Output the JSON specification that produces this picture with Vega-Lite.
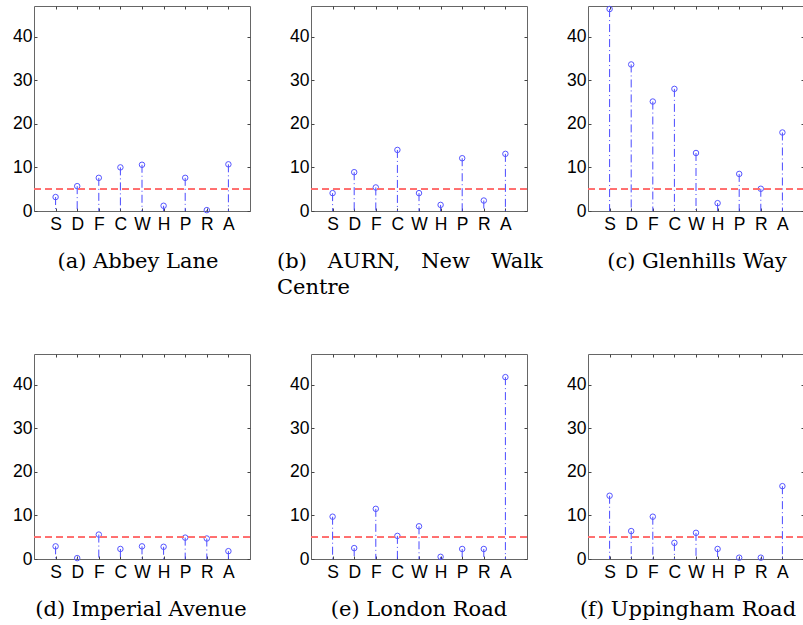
{
  "$schema": "https://vega.github.io/schema/vega-lite/v6.json",
  "padding": {"left": 12, "top": 3, "right": 5, "bottom": 5},
  "background": "white",
  "data": {"values": [
    {"s":"a","p":"S","v":3.2},{"s":"a","p":"D","v":5.7},{"s":"a","p":"F","v":7.6},{"s":"a","p":"C","v":10.0},{"s":"a","p":"W","v":10.6},{"s":"a","p":"H","v":1.2},{"s":"a","p":"P","v":7.6},{"s":"a","p":"R","v":0.2},{"s":"a","p":"A","v":10.7},
    {"s":"b","p":"S","v":4.1},{"s":"b","p":"D","v":8.9},{"s":"b","p":"F","v":5.4},{"s":"b","p":"C","v":14.0},{"s":"b","p":"W","v":4.1},{"s":"b","p":"H","v":1.4},{"s":"b","p":"P","v":12.1},{"s":"b","p":"R","v":2.4},{"s":"b","p":"A","v":13.1},
    {"s":"c","p":"S","v":46.3},{"s":"c","p":"D","v":33.6},{"s":"c","p":"F","v":25.1},{"s":"c","p":"C","v":28.0},{"s":"c","p":"W","v":13.3},{"s":"c","p":"H","v":1.8},{"s":"c","p":"P","v":8.5},{"s":"c","p":"R","v":5.1},{"s":"c","p":"A","v":18.0},
    {"s":"d","p":"S","v":2.9},{"s":"d","p":"D","v":0.2},{"s":"d","p":"F","v":5.6},{"s":"d","p":"C","v":2.3},{"s":"d","p":"W","v":2.9},{"s":"d","p":"H","v":2.8},{"s":"d","p":"P","v":4.9},{"s":"d","p":"R","v":4.7},{"s":"d","p":"A","v":1.8},
    {"s":"e","p":"S","v":9.7},{"s":"e","p":"D","v":2.5},{"s":"e","p":"F","v":11.5},{"s":"e","p":"C","v":5.3},{"s":"e","p":"W","v":7.5},{"s":"e","p":"H","v":0.5},{"s":"e","p":"P","v":2.3},{"s":"e","p":"R","v":2.3},{"s":"e","p":"A","v":41.7},
    {"s":"f","p":"S","v":14.5},{"s":"f","p":"D","v":6.4},{"s":"f","p":"F","v":9.7},{"s":"f","p":"C","v":3.7},{"s":"f","p":"W","v":6.0},{"s":"f","p":"H","v":2.3},{"s":"f","p":"P","v":0.3},{"s":"f","p":"R","v":0.3},{"s":"f","p":"A","v":16.7}
  ]},
  "columns": 3,
  "bounds": "flush",
  "spacing": {"row": 143, "column": 61},
  "concat": [
    {
      "width": 216, "height": 205,
      "title": {"text": "(a) Abbey Lane", "dx": -4},
      "transform": [{"filter": "datum.s === 'a'"}],
      "layer": [
        {"mark": {"type": "rule", "color": "#4a4aff", "strokeDash": [8, 3, 1, 3], "strokeWidth": 1},
         "encoding": {
           "x": {"field": "p", "type": "ordinal", "sort": ["S","D","F","C","W","H","P","R","A"], "scale": {"type": "point", "padding": 1}, "axis": {"orient": "bottom", "title": null, "labelAngle": 0, "labelPadding": 7}},
           "y": {"field": "v", "type": "quantitative", "scale": {"domain": [0, 47], "nice": false}, "axis": {"orient": "left", "title": null, "values": [0,10,20,30,40], "labelPadding": 5}},
           "y2": {"datum": 0}}},
        {"mark": {"type": "point", "shape": "circle", "filled": false, "size": 30, "color": "#5555ff", "strokeWidth": 1, "opacity": 1},
         "encoding": {
           "x": {"field": "p", "type": "ordinal", "sort": ["S","D","F","C","W","H","P","R","A"], "axis": {"orient": "top", "title": null, "labels": false}},
           "y": {"field": "v", "type": "quantitative", "axis": {"orient": "right", "title": null, "labels": false, "values": [0,10,20,30,40]}}}},
        {"mark": {"type": "rule", "color": "#ff6e6e", "strokeDash": [7, 4], "strokeWidth": 1},
         "encoding": {"y": {"datum": 5, "type": "quantitative", "axis": null}}}
      ],
      "resolve": {"axis": {"x": "independent", "y": "independent"}}
    },
    {
      "width": 216, "height": 205,
      "title": {"text": ["(b)\u2003AURN,\u2003New\u2003Walk", "Centre"], "anchor": "start", "align": "left", "dx": -34},
      "transform": [{"filter": "datum.s === 'b'"}],
      "layer": [
        {"mark": {"type": "rule", "color": "#4a4aff", "strokeDash": [8, 3, 1, 3], "strokeWidth": 1},
         "encoding": {
           "x": {"field": "p", "type": "ordinal", "sort": ["S","D","F","C","W","H","P","R","A"], "scale": {"type": "point", "padding": 1}, "axis": {"orient": "bottom", "title": null, "labelAngle": 0, "labelPadding": 7}},
           "y": {"field": "v", "type": "quantitative", "scale": {"domain": [0, 47], "nice": false}, "axis": {"orient": "left", "title": null, "values": [0,10,20,30,40], "labelPadding": 5}},
           "y2": {"datum": 0}}},
        {"mark": {"type": "point", "shape": "circle", "filled": false, "size": 30, "color": "#5555ff", "strokeWidth": 1, "opacity": 1},
         "encoding": {
           "x": {"field": "p", "type": "ordinal", "sort": ["S","D","F","C","W","H","P","R","A"], "axis": {"orient": "top", "title": null, "labels": false}},
           "y": {"field": "v", "type": "quantitative", "axis": {"orient": "right", "title": null, "labels": false, "values": [0,10,20,30,40]}}}},
        {"mark": {"type": "rule", "color": "#ff6e6e", "strokeDash": [7, 4], "strokeWidth": 1},
         "encoding": {"y": {"datum": 5, "type": "quantitative", "axis": null}}}
      ],
      "resolve": {"axis": {"x": "independent", "y": "independent"}}
    },
    {
      "width": 216, "height": 205,
      "title": {"text": "(c) Glenhills Way", "dx": 1},
      "transform": [{"filter": "datum.s === 'c'"}],
      "layer": [
        {"mark": {"type": "rule", "color": "#4a4aff", "strokeDash": [8, 3, 1, 3], "strokeWidth": 1},
         "encoding": {
           "x": {"field": "p", "type": "ordinal", "sort": ["S","D","F","C","W","H","P","R","A"], "scale": {"type": "point", "padding": 1}, "axis": {"orient": "bottom", "title": null, "labelAngle": 0, "labelPadding": 7}},
           "y": {"field": "v", "type": "quantitative", "scale": {"domain": [0, 47], "nice": false}, "axis": {"orient": "left", "title": null, "values": [0,10,20,30,40], "labelPadding": 5}},
           "y2": {"datum": 0}}},
        {"mark": {"type": "point", "shape": "circle", "filled": false, "size": 30, "color": "#5555ff", "strokeWidth": 1, "opacity": 1},
         "encoding": {
           "x": {"field": "p", "type": "ordinal", "sort": ["S","D","F","C","W","H","P","R","A"], "axis": {"orient": "top", "title": null, "labels": false}},
           "y": {"field": "v", "type": "quantitative", "axis": {"orient": "right", "title": null, "labels": false, "values": [0,10,20,30,40]}}}},
        {"mark": {"type": "rule", "color": "#ff6e6e", "strokeDash": [7, 4], "strokeWidth": 1},
         "encoding": {"y": {"datum": 5, "type": "quantitative", "axis": null}}}
      ],
      "resolve": {"axis": {"x": "independent", "y": "independent"}}
    },
    {
      "width": 216, "height": 205,
      "title": {"text": "(d) Imperial Avenue", "dx": -1},
      "transform": [{"filter": "datum.s === 'd'"}],
      "layer": [
        {"mark": {"type": "rule", "color": "#4a4aff", "strokeDash": [8, 3, 1, 3], "strokeWidth": 1},
         "encoding": {
           "x": {"field": "p", "type": "ordinal", "sort": ["S","D","F","C","W","H","P","R","A"], "scale": {"type": "point", "padding": 1}, "axis": {"orient": "bottom", "title": null, "labelAngle": 0, "labelPadding": 7}},
           "y": {"field": "v", "type": "quantitative", "scale": {"domain": [0, 47], "nice": false}, "axis": {"orient": "left", "title": null, "values": [0,10,20,30,40], "labelPadding": 5}},
           "y2": {"datum": 0}}},
        {"mark": {"type": "point", "shape": "circle", "filled": false, "size": 30, "color": "#5555ff", "strokeWidth": 1, "opacity": 1},
         "encoding": {
           "x": {"field": "p", "type": "ordinal", "sort": ["S","D","F","C","W","H","P","R","A"], "axis": {"orient": "top", "title": null, "labels": false}},
           "y": {"field": "v", "type": "quantitative", "axis": {"orient": "right", "title": null, "labels": false, "values": [0,10,20,30,40]}}}},
        {"mark": {"type": "rule", "color": "#ff6e6e", "strokeDash": [7, 4], "strokeWidth": 1},
         "encoding": {"y": {"datum": 5, "type": "quantitative", "axis": null}}}
      ],
      "resolve": {"axis": {"x": "independent", "y": "independent"}}
    },
    {
      "width": 216, "height": 205,
      "title": {"text": "(e) London Road", "dx": 0},
      "transform": [{"filter": "datum.s === 'e'"}],
      "layer": [
        {"mark": {"type": "rule", "color": "#4a4aff", "strokeDash": [8, 3, 1, 3], "strokeWidth": 1},
         "encoding": {
           "x": {"field": "p", "type": "ordinal", "sort": ["S","D","F","C","W","H","P","R","A"], "scale": {"type": "point", "padding": 1}, "axis": {"orient": "bottom", "title": null, "labelAngle": 0, "labelPadding": 7}},
           "y": {"field": "v", "type": "quantitative", "scale": {"domain": [0, 47], "nice": false}, "axis": {"orient": "left", "title": null, "values": [0,10,20,30,40], "labelPadding": 5}},
           "y2": {"datum": 0}}},
        {"mark": {"type": "point", "shape": "circle", "filled": false, "size": 30, "color": "#5555ff", "strokeWidth": 1, "opacity": 1},
         "encoding": {
           "x": {"field": "p", "type": "ordinal", "sort": ["S","D","F","C","W","H","P","R","A"], "axis": {"orient": "top", "title": null, "labels": false}},
           "y": {"field": "v", "type": "quantitative", "axis": {"orient": "right", "title": null, "labels": false, "values": [0,10,20,30,40]}}}},
        {"mark": {"type": "rule", "color": "#ff6e6e", "strokeDash": [7, 4], "strokeWidth": 1},
         "encoding": {"y": {"datum": 5, "type": "quantitative", "axis": null}}}
      ],
      "resolve": {"axis": {"x": "independent", "y": "independent"}}
    },
    {
      "width": 216, "height": 205,
      "title": {"text": "(f) Uppingham Road", "dx": -8},
      "transform": [{"filter": "datum.s === 'f'"}],
      "layer": [
        {"mark": {"type": "rule", "color": "#4a4aff", "strokeDash": [8, 3, 1, 3], "strokeWidth": 1},
         "encoding": {
           "x": {"field": "p", "type": "ordinal", "sort": ["S","D","F","C","W","H","P","R","A"], "scale": {"type": "point", "padding": 1}, "axis": {"orient": "bottom", "title": null, "labelAngle": 0, "labelPadding": 7}},
           "y": {"field": "v", "type": "quantitative", "scale": {"domain": [0, 47], "nice": false}, "axis": {"orient": "left", "title": null, "values": [0,10,20,30,40], "labelPadding": 5}},
           "y2": {"datum": 0}}},
        {"mark": {"type": "point", "shape": "circle", "filled": false, "size": 30, "color": "#5555ff", "strokeWidth": 1, "opacity": 1},
         "encoding": {
           "x": {"field": "p", "type": "ordinal", "sort": ["S","D","F","C","W","H","P","R","A"], "axis": {"orient": "top", "title": null, "labels": false}},
           "y": {"field": "v", "type": "quantitative", "axis": {"orient": "right", "title": null, "labels": false, "values": [0,10,20,30,40]}}}},
        {"mark": {"type": "rule", "color": "#ff6e6e", "strokeDash": [7, 4], "strokeWidth": 1},
         "encoding": {"y": {"datum": 5, "type": "quantitative", "axis": null}}}
      ],
      "resolve": {"axis": {"x": "independent", "y": "independent"}}
    }
  ],
  "config": {
    "view": {"stroke": "#666666", "strokeWidth": 1},
    "axis": {"labelFont": "Liberation Sans", "labelFontSize": 17.5, "labelColor": "#000000", "grid": false, "domain": false, "tickColor": "#444444", "tickSize": -3, "tickWidth": 1},
    "title": {"orient": "bottom", "font": "DejaVu Serif", "fontSize": 21, "fontWeight": "normal", "color": "#000000", "offset": 18, "frame": "group", "anchor": "middle", "lineHeight": 26}
  }
}
